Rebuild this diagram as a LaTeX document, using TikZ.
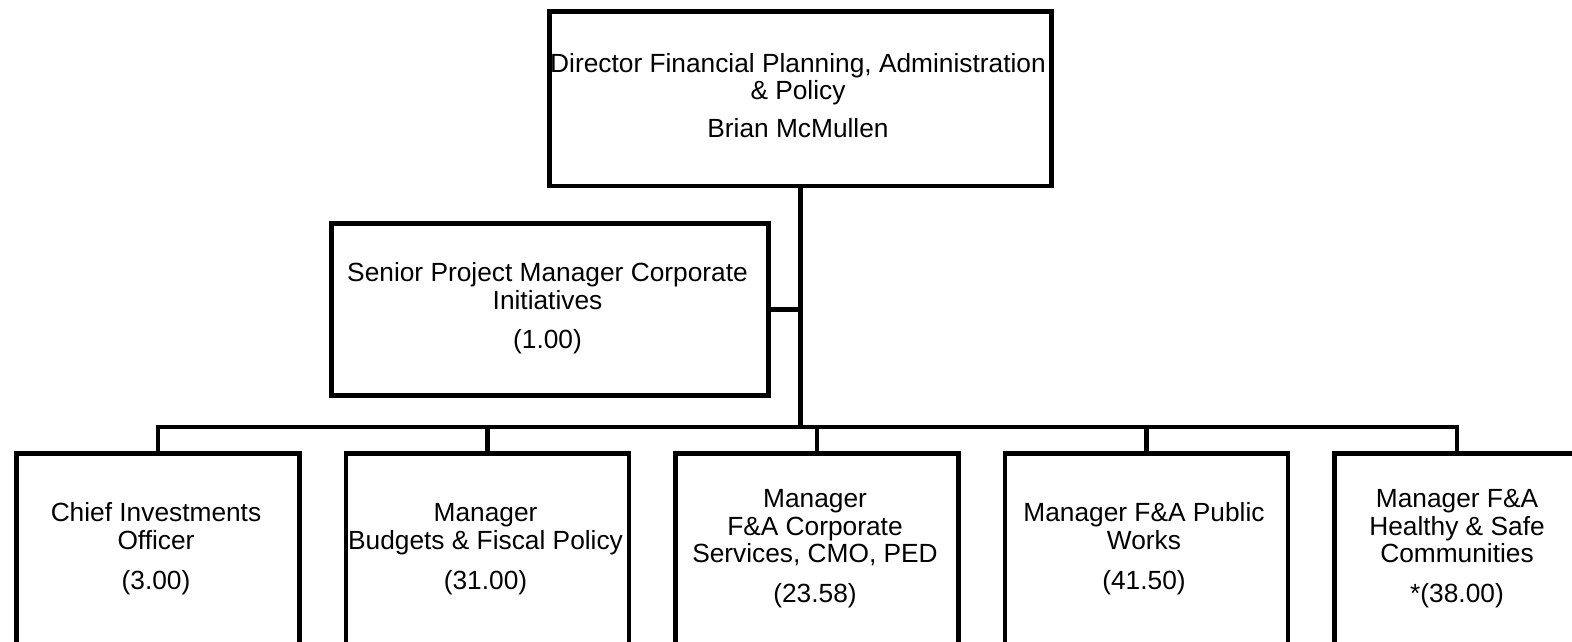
\documentclass[tikz,border=0pt]{standalone}
\usepackage{fontspec}
\setmainfont{Liberation Sans}
\begin{document}
\begin{tikzpicture}[x=1pt,y=-1pt,
  box/.style={draw=black,line width=4.5pt,rectangle,inner sep=0pt,anchor=north west},
  lbl/.style={align=center,anchor=base,inner sep=0pt,font=\fontsize{26.3}{27.7}\selectfont,text=black},
  conn/.style={draw=black,line width=4.5pt,line join=miter}]
\useasboundingbox (0,0) rectangle (1572,642);
% boxes
\node[box,minimum width=502pt,minimum height=174pt] (top) at (547,9.5) {};
\node[box,minimum width=437pt,minimum height=172pt] (senior) at (329,221) {};
\node[box,minimum width=283pt,minimum height=300pt] (b1) at (14,451) {};
\node[box,minimum width=283pt,minimum height=300pt] (b2) at (343.5,451) {};
\node[box,minimum width=283pt,minimum height=300pt] (b3) at (673,451) {};
\node[box,minimum width=283pt,minimum height=300pt] (b4) at (1002.5,451) {};
\node[box,minimum width=283pt,minimum height=300pt] (b5) at (1332,451) {};
% texts (anchored at the baseline of the last line)
\node[lbl] (ttop) at (798,137.5) {Director Financial Planning, Administration\\ \& Policy\\[10pt] Brian McMullen};
\node[lbl] (tsen) at (547.5,348) {Senior Project Manager Corporate\\ Initiatives\\[11pt] (1.00)};
\node[lbl] (t1) at (156,589) {Chief Investments\\ Officer\\[12pt] (3.00)};
\node[lbl] (t2) at (485.5,589) {Manager\\ Budgets \& Fiscal Policy\\[12pt] (31.00)};
\node[lbl] (t3) at (815,602.5) {Manager\\ F\&A Corporate\\ Services, CMO, PED\\[12pt] (23.58)};
\node[lbl] (t4) at (1144,589) {Manager F\&A Public\\ Works\\[12pt] (41.50)};
\node[lbl] (t5) at (1457,602.5) {Manager F\&A\\ Healthy \& Safe\\ Communities\\[12pt] *(38.00)};
% bus coordinates
\coordinate (bus1) at (b1.north |- 0,427);
\coordinate (bus5) at (1457,427);
\coordinate (main) at (top.south |- bus1);
% connectors
\draw[conn] (top.south) -- (main);
\draw[conn] (senior.east) -- (senior.east -| top.south);
\draw[conn] (b1.north) -- (bus1) -- (bus5) -- (bus5 |- b5.north);
\draw[conn] (b2.north) -- (b2.north |- bus1);
\draw[conn] (b3.north) -- (b3.north |- bus1);
\draw[conn] (b4.north) -- (b4.north |- bus1);
\end{tikzpicture}
\end{document}
